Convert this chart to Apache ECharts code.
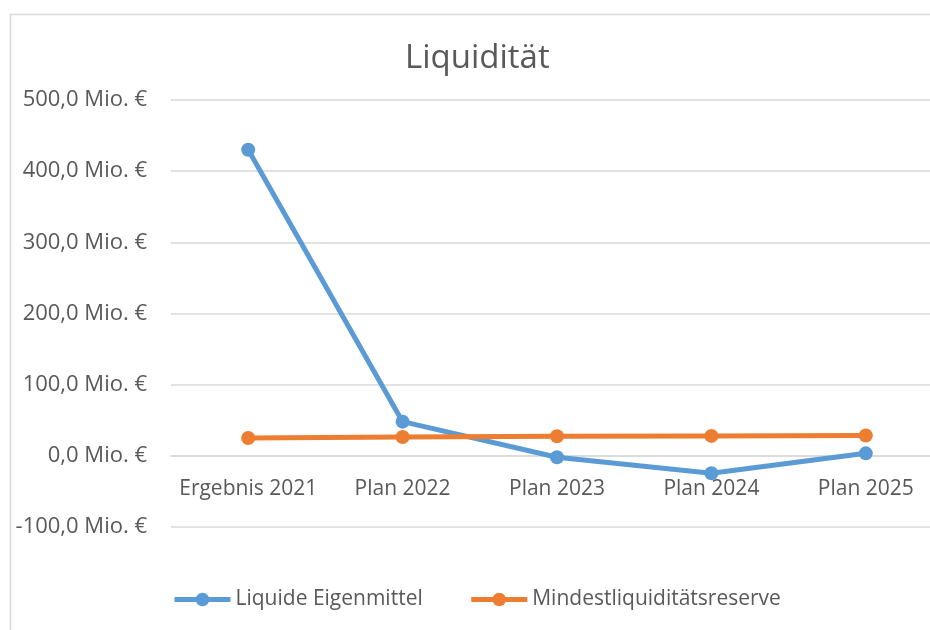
<!DOCTYPE html>
<html>
<head>
<meta charset="utf-8">
<script src="https://cdn.jsdelivr.net/npm/echarts@6/dist/echarts.min.js"></script>
<style>html,body{margin:0;padding:0;background:#fff}#c{width:930px;height:630px}</style>
</head>
<body>
<div id="c"></div>
<script>
const categories = ['Ergebnis 2021', 'Plan 2022', 'Plan 2023', 'Plan 2024', 'Plan 2025'];
const liquideEigenmittel = [430, 48, -2, -24.5, 3.5];
const mindestreserve = [25, 26.5, 27.5, 28, 28.5];
const seriesNames = ['Liquide Eigenmittel', 'Mindestliquiditätsreserve'];
const titleText = 'Liquidität';

const FONT = 'Open Sans';
const TXT = '#595959';
const chart = echarts.init(document.getElementById('c'));
chart.setOption({
  animation: false,
  backgroundColor: '#fff',
  graphic: [{
    type: 'rect', left: 8, top: 12, silent: true,
    shape: { width: 960, height: 660 },
    style: { fill: 'none', stroke: '#d9d9d9', lineWidth: 1.5 }
  }],
  title: {
    text: titleText, left: 400, top: 37,
    textStyle: { fontFamily: FONT, fontSize: 33, fontWeight: 'normal', color: TXT }
  },
  legend: {
    data: seriesNames, left: 167, top: 584, itemWidth: 56, itemHeight: 17, itemGap: 46,
    lineStyle: { width: 5 },
    textStyle: { fontFamily: FONT, fontSize: 21, color: TXT }
  },
  grid: { left: 171, top: 100, width: 772, height: 427, outerBoundsMode: 'none', containLabel: false },
  xAxis: {
    type: 'category', data: categories, boundaryGap: true,
    offset: -71.2,
    axisLine: { onZero: false, lineStyle: { color: '#d9d9d9', width: 1.5 } },
    axisTick: { show: false },
    axisLabel: { margin: 23, fontFamily: FONT, fontSize: 21, color: TXT, interval: 0 }
  },
  yAxis: {
    type: 'value', min: -100, max: 500, interval: 100,
    axisLine: { show: false }, axisTick: { show: false },
    splitLine: { lineStyle: { color: '#d9d9d9', width: 1.5 } },
    axisLabel: {
      margin: 24, fontFamily: FONT, fontSize: 22, color: TXT,
      formatter: v => v.toFixed(1).replace('.', ',') + ' Mio. €'
    }
  },
  series: [
    {
      name: seriesNames[0], type: 'line', data: liquideEigenmittel,
      symbol: 'circle', symbolSize: 14,
      lineStyle: { color: '#5B9BD5', width: 5 }, itemStyle: { color: '#5B9BD5' }
    },
    {
      name: seriesNames[1], type: 'line', data: mindestreserve,
      symbol: 'circle', symbolSize: 14,
      lineStyle: { color: '#ED7D31', width: 5 }, itemStyle: { color: '#ED7D31' }
    }
  ]
});
</script>
</body>
</html>
